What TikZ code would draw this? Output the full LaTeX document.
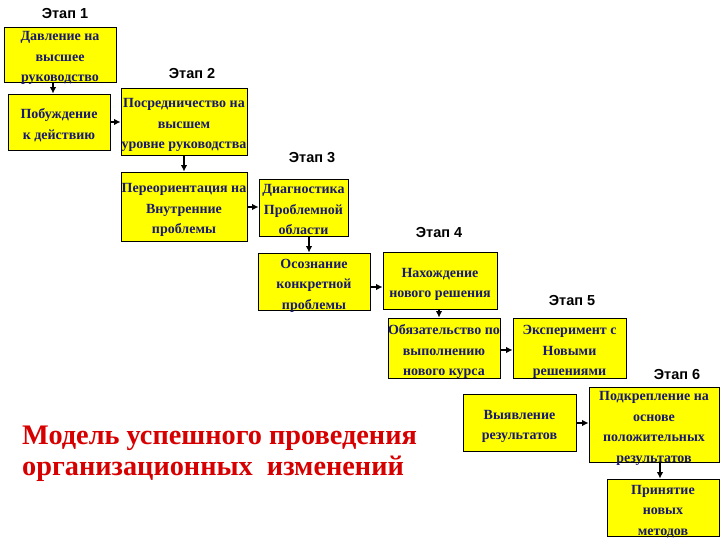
\documentclass[tikz,border=0pt]{standalone}
\usepackage{fontspec}
\setmainfont{Liberation Serif}
\newfontfamily\etapfont{Liberation Sans}
\usetikzlibrary{arrows.meta}
\definecolor{boxyellow}{RGB}{255,255,0}
\definecolor{boxtext}{RGB}{25,25,112}
\definecolor{titlered}{RGB}{215,0,0}
\newcommand\bt[1]{\makebox[0pt]{\smash{\raisebox{-6.5pt}{\begin{tabular}{@{}c@{}}#1\end{tabular}}}}}
\tikzset{
  box/.style={draw=black, line width=0.8pt, fill=boxyellow, inner sep=0pt, text=boxtext,
    font=\fontsize{14}{20.5}\selectfont\bfseries},
  etap/.style={font=\etapfont\fontsize{14.5}{16}\selectfont\bfseries, text=black, inner sep=0pt},
  arr/.style={-{Latex[length=6.5pt,width=6.5pt]}, line width=1.4pt, black}
}
\begin{document}
\begin{tikzpicture}[x=1pt,y=-1pt]
\useasboundingbox[fill=white] (0,0) rectangle (720,540);
% stage labels
\node[etap] (e1) at (65,14) {Этап 1};
\node[etap] (e2) at (192,74) {Этап 2};
\node[etap] (e3) at (312,158) {Этап 3};
\node[etap] (e4) at (439,233) {Этап 4};
\node[etap] (e5) at (572,301) {Этап 5};
\node[etap] (e6) at (677,375) {Этап 6};
% boxes
\node[box, minimum width=112pt, minimum height=55pt] (b1) at (60,54.5) {\bt{Давление на\\высшее\\руководство}};
\node[box, minimum width=102pt, minimum height=56pt] (b2) at (59,122) {\bt{Побуждение\\к действию}};
\node[box, minimum width=126pt, minimum height=67pt] (b3) at (184,121.5) {\bt{Посредничество на\\высшем\\уровне руководства}};
\node[box, minimum width=126pt, minimum height=69pt] (b4) at (184,206.5) {\bt{Переориентация на\\Внутренние\\проблемы}};
\node[box, minimum width=89pt, minimum height=57pt] (b5) at (303.5,207.5) {\bt{Диагностика\\Проблемной\\области}};
\node[box, minimum width=112pt, minimum height=57pt] (b6) at (314,281.5) {\bt{Осознание\\конкретной\\проблемы}};
\node[box, minimum width=114pt, minimum height=57pt] (b7) at (440,280.5) {\bt{Нахождение\\нового решения}};
\node[box, minimum width=112pt, minimum height=60pt] (b8) at (444,348) {\bt{Обязательство по\\выполнению\\нового курса}};
\node[box, minimum width=113pt, minimum height=60pt] (b9) at (569.5,348) {\bt{Эксперимент с\\Новыми\\решениями}};
\node[box, minimum width=113pt, minimum height=57pt] (b10) at (519.5,422.5) {\bt{Выявление\\результатов}};
\node[box, minimum width=130pt, minimum height=75pt] (b11) at (654,424.5) {\bt{Подкрепление на\\основе\\положительных\\результатов}};
\node[box, minimum width=112pt, minimum height=57pt] (b12) at (663,507.5) {\bt{Принятие\\новых\\методов}};
% title
\node[anchor=north west, align=left, inner sep=0pt, text=titlered,
  font=\fontsize{28.3}{31}\selectfont\bfseries] (title) at (22,426)
  {Модель успешного проведения\\организационных~ изменений};
% arrows
\draw[arr] ([xshift=-7pt]b1.south) -- ([xshift=-7pt]b1.south |- b2.north);
\draw[arr] (b2.east |- 0,122) -- (b3.west |- 0,122);
\draw[arr] (b3.south) -- (b4.north);
\draw[arr] (b4.east |- 0,207) -- (b5.west |- 0,207);
\draw[arr] (b5.south -| 309,0) -- (b6.north -| 309,0);
\draw[arr] (b6.east |- 0,287) -- (b7.west |- 0,287);
\draw[arr] (b7.south -| 439,0) -- (b8.north -| 439,0);
\draw[arr] (b8.east |- 0,350) -- (b9.west |- 0,350);
\draw[arr] (b10.east |- 0,423) -- (b11.west |- 0,423);
\draw[arr] (b11.south -| 660,0) -- (b12.north -| 660,0);
\end{tikzpicture}
\end{document}
